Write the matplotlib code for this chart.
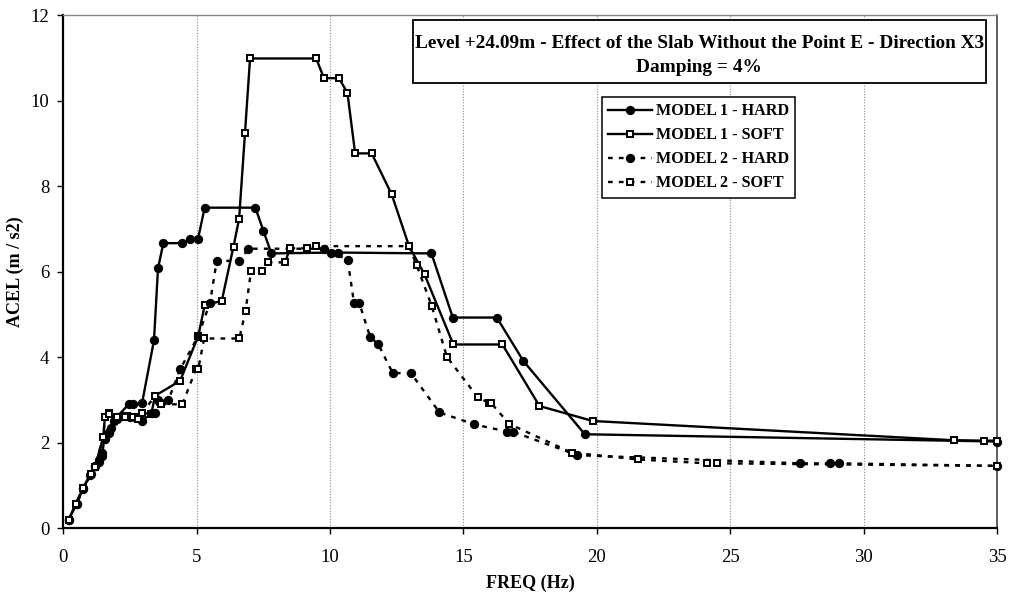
import matplotlib
matplotlib.use("Agg")
import matplotlib.pyplot as plt
from matplotlib.patches import Rectangle

# Response spectra, Level +24.09 m, direction X3, 4 % damping
freq_m1_hard = [0.2, 0.5, 0.75, 1.0, 1.2, 1.35, 1.45, 1.55, 1.7, 1.9, 2.0, 2.45, 2.6, 2.95,
                3.4, 3.55, 3.75, 4.45, 4.75, 5.05, 5.3, 7.2, 7.5, 7.8, 10.05, 10.3, 13.8,
                14.6, 16.25, 17.25, 19.55, 35.0]
acel_m1_hard = [0.2, 0.57, 0.95, 1.25, 1.45, 1.6, 1.7, 2.15, 2.25, 2.5, 2.6, 2.9, 2.9, 2.92,
                4.4, 6.08, 6.67, 6.67, 6.77, 6.77, 7.5, 7.5, 6.96, 6.43, 6.45, 6.45, 6.43,
                4.93, 4.93, 3.91, 2.2, 2.03]

freq_m1_soft = [0.2, 0.46, 0.75, 1.04, 1.19, 1.5, 1.56, 1.71, 2.0, 2.4, 2.96, 3.3, 3.44, 4.38,
                5.06, 5.3, 5.94, 6.38, 6.59, 6.81, 7.0, 9.48, 9.77, 10.33, 10.65, 10.94,
                11.56, 12.31, 12.96, 13.54, 14.62, 16.46, 17.85, 19.85, 33.37, 34.5, 35.0]
acel_m1_soft = [0.19, 0.57, 0.95, 1.27, 1.44, 2.14, 2.61, 2.69, 2.6, 2.62, 2.69, 2.68, 3.1, 3.45,
                4.5, 5.22, 5.32, 6.59, 7.24, 9.24, 10.99, 10.99, 10.53, 10.53, 10.19, 8.77,
                8.77, 7.81, 6.6, 5.94, 4.3, 4.3, 2.86, 2.51, 2.06, 2.05, 2.05]

freq_m2_hard = [0.2, 0.5, 0.75, 1.05, 1.2, 1.35, 1.45, 1.55, 1.7, 1.8, 2.0, 2.2, 2.5, 2.7, 2.96,
                3.31, 3.44, 3.56, 3.94, 4.38, 5.06, 5.5, 5.75, 6.6, 6.94, 9.77, 10.66, 10.9,
                11.1, 11.5, 11.81, 12.35, 13.03, 14.1, 15.41, 16.65, 16.85, 19.27, 27.62,
                28.75, 29.06, 35.0]
acel_m2_hard = [0.2, 0.57, 0.92, 1.28, 1.45, 1.55, 1.75, 2.1, 2.22, 2.35, 2.55, 2.62, 2.6, 2.6,
                2.52, 2.69, 2.69, 3.0, 3.0, 3.72, 4.5, 5.28, 6.25, 6.26, 6.54, 6.54, 6.28,
                5.26, 5.26, 4.48, 4.3, 3.63, 3.63, 2.71, 2.43, 2.26, 2.26, 1.71, 1.52, 1.52,
                1.52, 1.46]

freq_m2_soft = [0.2, 0.46, 0.75, 1.04, 1.19, 1.5, 1.56, 1.71, 2.0, 2.3, 2.62, 2.79, 2.96, 3.44,
                3.66, 4.46, 4.98, 5.06, 5.28, 6.6, 6.83, 7.04, 7.44, 7.66, 8.31, 8.5, 9.14,
                9.48, 12.96, 13.25, 13.81, 14.38, 15.54, 15.94, 16.02, 16.72, 19.06, 21.54,
                24.12, 24.5, 35.0]
acel_m2_soft = [0.19, 0.57, 0.95, 1.27, 1.44, 2.14, 2.6, 2.67, 2.6, 2.6, 2.6, 2.56, 2.69, 3.1,
                2.9, 2.9, 3.73, 3.73, 4.44, 4.44, 5.08, 6.03, 6.03, 6.22, 6.22, 6.55, 6.55,
                6.6, 6.6, 6.15, 5.2, 4.01, 3.06, 2.94, 2.94, 2.44, 1.77, 1.61, 1.52, 1.52,
                1.46]

labels = ["MODEL 1 - HARD", "MODEL 1 - SOFT", "MODEL 2 - HARD", "MODEL 2 - SOFT"]
x_ticks = [0, 5, 10, 15, 20, 25, 30, 35]
y_ticks = [0, 2, 4, 6, 8, 10, 12]

title_line1 = "Level +24.09m - Effect of the Slab Without the Point E - Direction X3"
title_line2 = "Damping = 4%"

plt.rcParams["font.family"] = ["Liberation Serif", "DejaVu Serif"]

W, H = 1011, 598
fig = plt.figure(figsize=(W / 100, H / 100), dpi=100)
ax = fig.add_axes([63.3 / W, 1 - 528.3 / H, (997.0 - 63.3) / W, (528.3 - 15.3) / H])

dots = (0, (2.0, 2.6))
series = [
    (freq_m1_hard, acel_m1_hard, "-", "o", "black"),
    (freq_m1_soft, acel_m1_soft, "-", "s", "white"),
    (freq_m2_hard, acel_m2_hard, dots, "o", "black"),
    (freq_m2_soft, acel_m2_soft, dots, "s", "white"),
]
handles = []
for (fx, fy, ls, mk, fc), lab in zip(series, labels):
    h, = ax.plot(fx, fy, linestyle=ls, color="black", linewidth=1.7,
                 marker=mk, markersize=5.3 if mk == "o" else 4.4,
                 markerfacecolor=fc, markeredgecolor="black",
                 markeredgewidth=1.4, label=lab, clip_on=False, zorder=3)
    handles.append(h)

ax.set_xlim(0, 35)
ax.set_ylim(0, 12)
ax.set_xticks(x_ticks)
ax.set_yticks(y_ticks)
ax.tick_params(axis="both", direction="out", length=4, width=1.0,
               labelsize=13.5, colors="black")
ax.tick_params(axis="x", pad=11)
ax.tick_params(axis="y", pad=6)

# vertical dotted grid
ax.grid(axis="x", color="#888888", linestyle=(0, (1, 1.5)), linewidth=0.8)
ax.grid(axis="y", visible=False)
ax.set_axisbelow(True)

for side in ("left", "bottom"):
    ax.spines[side].set_linewidth(1.6)
    ax.spines[side].set_color("black")
ax.spines["right"].set_linewidth(1.1)
ax.spines["right"].set_color("#333333")
ax.spines["top"].set_linewidth(1.0)
ax.spines["top"].set_color("#888888")
ax.spines["top"].set_linestyle((0, (2, 1)))

ax.set_xlabel("FREQ (Hz)", fontsize=13, fontweight="bold", labelpad=6)
ax.set_ylabel("ACEL (m / s2)", fontsize=13, fontweight="bold", labelpad=5)

# title box
x0, y0, x1, y1 = 412.7, 20.0, 985.7, 83.3
fig.patches.append(Rectangle((x0 / W, 1 - y1 / H), (x1 - x0) / W, (y1 - y0) / H,
                             transform=fig.transFigure, facecolor="white",
                             edgecolor="black", linewidth=1.3, zorder=5))
cx = (x0 + x1) / 2 / W
fig.text(cx, 1 - 43.0 / H, title_line1, ha="center", va="center",
         fontsize=13.9, fontweight="bold", zorder=6)
fig.text(cx, 1 - 67.0 / H, title_line2, ha="center", va="center",
         fontsize=13.9, fontweight="bold", zorder=6)

leg = ax.legend(handles=handles, loc="upper left",
                bbox_to_anchor=(601.7 / W, 1 - 96.7 / H), bbox_transform=fig.transFigure,
                borderaxespad=0, frameon=True, fancybox=False, shadow=False,
                prop={"size": 11.6, "weight": "bold"}, handlelength=2.75,
                handletextpad=0.2, labelspacing=0.5, borderpad=0.4)
leg.get_frame().set_edgecolor("black")
leg.get_frame().set_linewidth(1.1)
leg.get_frame().set_alpha(1)

fig.savefig("out.png", dpi=100)
